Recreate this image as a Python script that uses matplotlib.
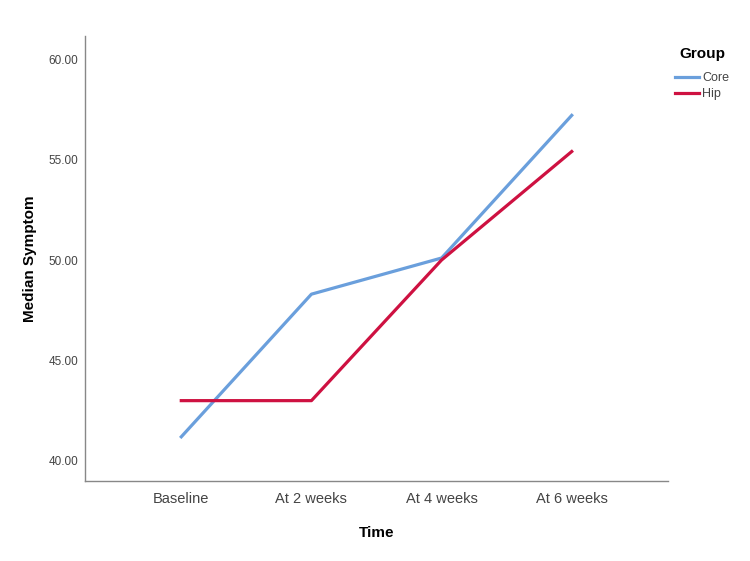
import numpy as np
import matplotlib.pyplot as plt

plt.rcParams['font.family'] = ['Liberation Sans', 'DejaVu Sans']

### data ###
times = ["Baseline", "At 2 weeks", "At 4 weeks", "At 6 weeks"]
core = [41.2, 48.3, 50.1, 57.2]
hip = [43.0, 43.0, 50.0, 55.4]
yticks = [40, 45, 50, 55, 60]

fig = plt.figure(figsize=(7.5, 5.61), dpi=100)
ax = fig.add_axes([0.1133, 0.1426, 0.7774, 0.7932])

x = np.arange(len(times))
ax.plot(x, core, color="#6A9FDC", lw=2.3, label="Core")
ax.plot(x, hip, color="#CE1141", lw=2.3, label="Hip")

ax.set_xlim(-0.74, 3.74)
ax.set_ylim(39.0, 61.15)
ax.set_xticks(x)
ax.set_xticklabels(times, fontsize=10.5, color="#444444")
ax.set_yticks(yticks)
ax.set_yticklabels(["{0:0.2f}".format(v) for v in yticks], fontsize=8.5, color="#444444")
ax.tick_params(length=0, pad=8)
ax.tick_params(axis="y", pad=5)

for s in ["top", "right"]:
    ax.spines[s].set_visible(False)
for s in ["left", "bottom"]:
    ax.spines[s].set_color("#888888")
    ax.spines[s].set_linewidth(1.0)

ax.set_xlabel("Time", fontsize=11, fontweight="bold", labelpad=14)
ax.set_ylabel("Median Symptom", fontsize=11, fontweight="bold", labelpad=8)

leg = fig.legend(loc="upper left", bbox_to_anchor=(0.893, 0.925), frameon=False,
                 title="Group", fontsize=9, handlelength=1.9, handletextpad=0.3,
                 labelspacing=0.3, borderaxespad=0)
leg.get_title().set_fontweight("bold")
leg.get_title().set_fontsize(11)
leg._legend_box.sep = 8
for t in leg.get_texts():
    t.set_color("#444444")

fig.savefig("out.png", dpi=100)
